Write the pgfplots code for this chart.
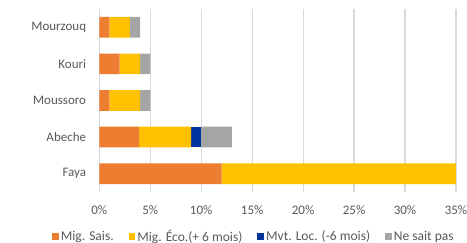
\documentclass[border=0pt]{standalone}
\usepackage{pgfplots}
\pgfplotsset{compat=1.18}
\usepackage{fontspec}
\setmainfont{Carlito}
\definecolor{cOr}{HTML}{ED7D31}
\definecolor{cYe}{HTML}{FFC000}
\definecolor{cBl}{HTML}{0033A0}
\definecolor{cGr}{HTML}{A5A5A5}
\definecolor{cTx}{HTML}{595959}
\definecolor{cGd}{HTML}{D9D9D9}
\pgfplotsset{sq/.style={legend image code/.code={\fill[##1,draw=none] (0pt,-3.3pt) rectangle (6.6pt,3.3pt);}}}
\begin{document}
\begin{tikzpicture}[font=\fontsize{13}{15}\selectfont]
\begin{axis}[
  scale only axis, width=356.7pt, height=183pt,
  xbar stacked, bar width=20.7pt,
  xmin=0, xmax=35, ymin=-0.5, ymax=4.5,
  ytick={0,1,2,3,4}, yticklabels={Faya,Abeche,Moussoro,Kouri,Mourzouq},
  xtick={0,5,...,35}, xticklabel={\pgfmathprintnumber{\tick}\%},
  /pgf/number format/assume math mode=true,
  axis line style={draw=none},
  major tick style={draw=none},
  xmajorgrids, major grid style={cGd, line width=1.2pt},
  ticklabel style={text=cTx, inner sep=0pt},
  yticklabel style={xshift=-13pt},
  xticklabel style={yshift=-13pt},
  legend columns=4,
  legend style={draw=none, fill=none, inner sep=0pt, at={(-0.1326,-0.243)}, anchor=west,
    font=\fontsize{13.5}{16}\selectfont, text=cTx,
    /tikz/every even column/.append style={column sep=13pt},
    nodes={inner ysep=1.5pt, inner xsep=2pt}},
  legend cell align=left,
]
\addplot[fill=cOr, draw=none, sq] coordinates {(12,0) (3.9,1) (1,2) (2,3) (1,4)};
\addplot[fill=cYe, draw=none, sq] coordinates {(23,0) (5.1,1) (3,2) (2,3) (2,4)};
\addplot[fill=cBl, draw=none, sq] coordinates {(0,0) (1,1) (0,2) (0,3) (0,4)};
\addplot[fill=cGr, draw=none, sq] coordinates {(0,0) (3,1) (1,2) (1,3) (1,4)};
\legend{Mig. Sais., Mig. Éco.(+ 6 mois), Mvt. Loc. (-6 mois), Ne sait pas}
\end{axis}
\pgfresetboundingbox
\path[use as bounding box] (-99.3pt,-51pt) rectangle (367.7pt,192pt);
\end{tikzpicture}
\end{document}
